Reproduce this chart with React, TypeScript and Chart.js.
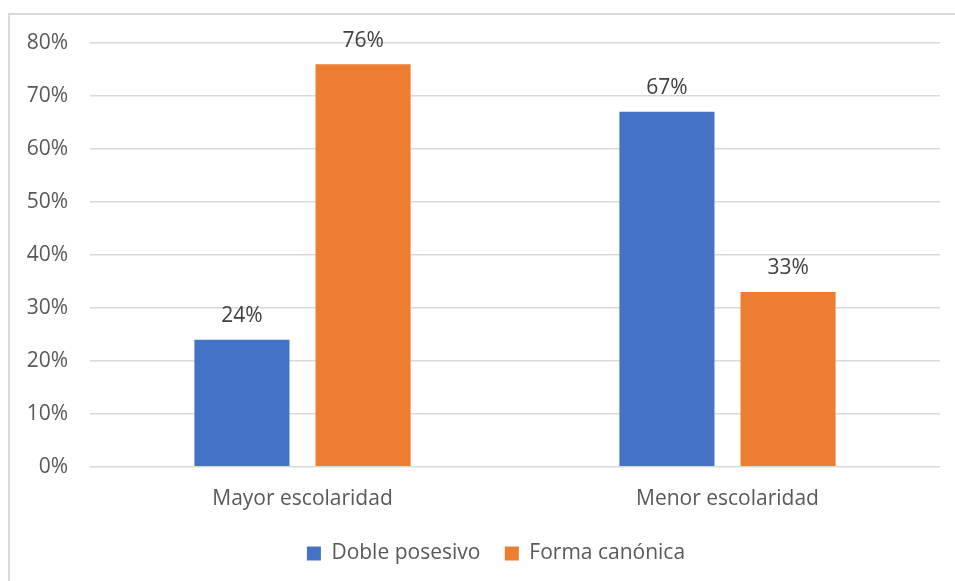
import React, { useEffect, useRef } from "react";
import { Chart, registerables } from "chart.js";

Chart.register(...registerables);

const categories = ["Mayor escolaridad", "Menor escolaridad"];
const seriesNames = ["Doble posesivo", "Forma canónica"];
const doblePosesivo = [24, 67];
const formaCanonica = [76, 33];
const yTicks = [0, 10, 20, 30, 40, 50, 60, 70, 80];

const FONT = "'Open Sans', 'Noto Sans', sans-serif";

const valueLabels = {
  id: "valueLabels",
  afterDatasetsDraw(chart: any) {
    const ctx = chart.ctx;
    ctx.save();
    ctx.font = `21px ${FONT}`;
    ctx.fillStyle = "#404040";
    ctx.textAlign = "center";
    ctx.textBaseline = "bottom";
    chart.data.datasets.forEach((ds: any, i: number) => {
      const meta = chart.getDatasetMeta(i);
      meta.data.forEach((bar: any, j: number) => {
        ctx.fillText(ds.data[j] + "%", bar.x, bar.y - 13);
      });
    });
    ctx.restore();
  },
};

const shiftLegend = {
  id: "shiftLegend",
  afterLayout(chart: any) {
    if (chart.legend) {
      chart.legend.left += 21;
      chart.legend.right += 21;
    }
  },
};

export default function App() {
  const ref = useRef<HTMLCanvasElement>(null);
  useEffect(() => {
    const chart = new Chart(ref.current!, {
      type: "bar",
      data: {
        labels: categories,
        datasets: [
          {
            label: seriesNames[0],
            data: doblePosesivo,
            backgroundColor: "#4472C4",
            categoryPercentage: 0.57,
            barPercentage: 0.785,
          },
          {
            label: seriesNames[1],
            data: formaCanonica,
            backgroundColor: "#ED7D31",
            categoryPercentage: 0.57,
            barPercentage: 0.785,
          },
        ],
      },
      options: {
        animation: false,
        responsive: false,
        maintainAspectRatio: false,
        layout: { padding: { top: 28, right: 15, left: 0, bottom: 7 } },
        plugins: {
          tooltip: { enabled: false },
          legend: {
            position: "bottom",
            labels: {
              boxWidth: 14,
              boxHeight: 14,
              padding: 19,
              color: "#595959",
              font: { family: FONT, size: 21 },
              generateLabels(chart: any) {
                const items = Chart.defaults.plugins.legend.labels.generateLabels(chart);
                if (items[0]) items[0].text = items[0].text + " ";
                return items;
              },
            },
          },
        },
        scales: {
          x: {
            grid: { display: false },
            border: { display: false },
            ticks: {
              color: "#595959",
              font: { family: FONT, size: 21 },
              padding: 12,
            },
          },
          y: {
            min: 0,
            max: 80,
            afterBuildTicks(scale: any) {
              scale.ticks = yTicks.map((v) => ({ value: v }));
            },
            afterFit(scale: any) {
              scale.width = 80;
              scale.paddingTop = 0;
              scale.paddingBottom = 0;
            },
            grid: { color: "#d9d9d9", lineWidth: 1.5, drawTicks: false },
            border: { display: false },
            ticks: {
              color: "#595959",
              font: { family: FONT, size: 21 },
              padding: 22,
              callback: (v: any) => v + "%",
            },
          },
        },
      },
      plugins: [valueLabels, shiftLegend],
    });
    return () => chart.destroy();
  }, []);
  return (
    <div
      style={{
        position: "fixed",
        left: 8,
        top: 13,
        width: 947,
        height: 568,
        borderTop: "2px solid #d9d9d9",
        borderLeft: "2px solid #d9d9d9",
        boxSizing: "border-box",
        background: "#fff",
      }}
    >
      <canvas ref={ref} width={945} height={566} style={{ display: "block" }} />
    </div>
  );
}
